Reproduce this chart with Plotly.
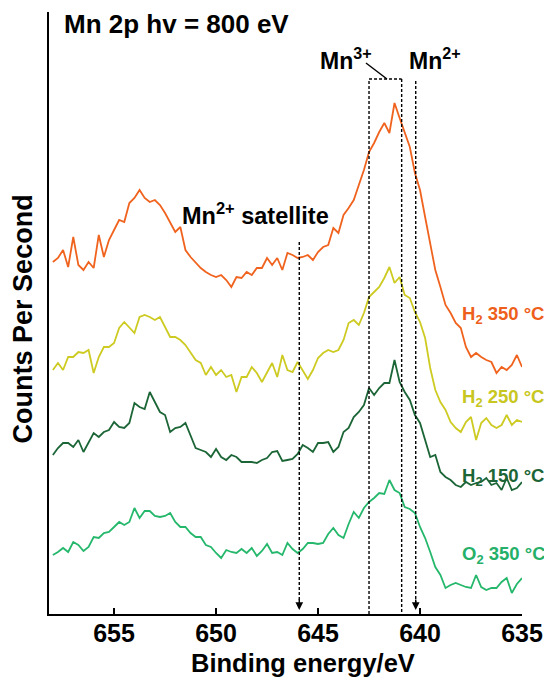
import plotly.graph_objects as go

# ---------------- data ----------------
binding_energy = [
    658.0, 657.75, 657.5, 657.25, 657.0, 656.75, 656.5, 656.25, 656.0, 655.75,
    655.5, 655.25, 655.0, 654.75, 654.5, 654.25, 654.0, 653.75, 653.5, 653.25,
    653.0, 652.75, 652.5, 652.25, 652.0, 651.75, 651.5, 651.25, 651.0, 650.75,
    650.5, 650.25, 650.0, 649.75, 649.5, 649.25, 649.0, 648.75, 648.5, 648.25,
    648.0, 647.75, 647.5, 647.25, 647.0, 646.75, 646.5, 646.25, 646.0, 645.75,
    645.5, 645.25, 645.0, 644.75, 644.5, 644.25, 644.0, 643.75, 643.5, 643.25,
    643.0, 642.75, 642.5, 642.25, 642.0, 641.75, 641.5, 641.25, 641.0, 640.75,
    640.5, 640.25, 640.0, 639.75, 639.5, 639.25, 639.0, 638.75, 638.5, 638.25,
    638.0, 637.75, 637.5, 637.25, 637.0, 636.75, 636.5, 636.25, 636.0, 635.75,
    635.5, 635.25, 635.0,
]

h2_350 = [
    352, 356, 364, 347, 377, 349, 344, 352, 346, 379,
    357, 374, 384, 394, 392, 411, 416, 424, 416, 412,
    414, 409, 401, 391, 382, 387, 364, 357, 351, 346,
    342, 339, 337, 339, 334, 327, 337, 336, 342, 339,
    346, 346, 356, 349, 356, 344, 361, 359, 356, 357,
    359, 354, 362, 367, 369, 386, 381, 399, 406, 414,
    429, 444, 462, 471, 482, 491, 481, 511, 496, 481,
    467, 441, 424, 397, 371, 344, 327, 309, 301, 291,
    286, 267, 257, 261, 257, 254, 252, 241, 247, 244,
    249, 259, 247,
]

h2_250 = [
    244, 251, 244, 257, 257, 262, 261, 264, 241, 257,
    267, 267, 271, 286, 292, 287, 281, 297, 299, 297,
    294, 297, 287, 277, 277, 274, 269, 261, 254, 251,
    239, 247, 239, 244, 237, 239, 222, 237, 237, 247,
    241, 232, 241, 251, 237, 259, 244, 242, 252, 244,
    235, 244, 256, 261, 264, 262, 264, 274, 291, 294,
    289, 301, 317, 322, 327, 336, 347, 331, 337, 319,
    316, 302, 292, 276, 246, 224, 212, 204, 192, 186,
    182, 192, 197, 174, 191, 196, 189, 186, 189, 199,
    189, 194, 192,
]

h2_150 = [
    159, 166, 171, 171, 167, 174, 162, 171, 181, 177,
    182, 184, 192, 187, 186, 191, 211, 207, 205, 222,
    212, 202, 199, 182, 186, 187, 191, 179, 166, 164,
    162, 157, 165, 157, 154, 159, 157, 152, 152, 152,
    151, 154, 156, 162, 163, 153, 154, 155, 160, 169,
    166, 162, 171, 171, 172, 162, 167, 182, 186, 197,
    202, 209, 226, 219, 226, 231, 231, 254, 232, 222,
    214, 199, 191, 174, 157, 159, 142, 137, 134, 129,
    127, 132, 129, 131, 132, 136, 129, 131, 124, 136,
    124, 126, 132,
]

o2_350 = [
    59, 62, 66, 62, 72, 69, 63, 67, 77, 76,
    81, 82, 87, 92, 89, 92, 106, 96, 103, 103,
    98, 97, 98, 101, 92, 87, 87, 81, 77, 77,
    69, 67, 61, 56, 64, 62, 61, 65, 61, 66,
    58, 63, 70, 61, 62, 59, 71, 65, 61, 65,
    71, 71, 70, 71, 80, 86, 79, 76, 90, 102,
    96, 106, 112, 116, 121, 120, 134, 124, 121, 107,
    105, 101, 87, 76, 62, 47, 39, 26, 29, 31,
    29, 27, 26, 39, 27, 24, 26, 26, 32, 36,
    21, 30, 36,
]

series_names = ["H<sub>2</sub> 350 °C", "H<sub>2</sub> 250 °C",
                "H<sub>2</sub> 150 °C", "O<sub>2</sub> 350 °C"]
series_values = [h2_350, h2_250, h2_150, o2_350]
series_colors = ["#F0631E", "#CDCB22", "#1B6536", "#25B86C"]
label_colors = ["#EE5F1C", "#C8C620", "#1B6536", "#25B06A"]
label_y = [299, 216, 137, 59]

tick_values = [655, 650, 645, 640, 635]
tick_labels = ["655", "650", "645", "640", "635"]

# marker energies
SAT_E = 645.92
MN3_LO = 642.5
MN3_HI = 640.9
MN2_E = 640.21

FONT = "Liberation Sans, Arial, Helvetica, sans-serif"

fig = go.Figure()
for name, vals, col in zip(series_names, series_values, series_colors):
    fig.add_trace(go.Scatter(
        x=binding_energy, y=vals, mode="lines", name=name,
        line=dict(color=col, width=1.8), showlegend=False,
    ))

dash = "3px,2px"
blk = dict(color="black", width=1.4, dash=dash)
shapes = [
    dict(type="line", xref="x", yref="y", x0=SAT_E, x1=SAT_E, y0=372, y1=12, line=blk),
    dict(type="line", xref="x", yref="y", x0=MN3_LO, x1=MN3_LO, y0=0, y1=535, line=blk),
    dict(type="line", xref="x", yref="y", x0=MN3_LO, x1=MN3_HI, y0=535, y1=535, line=blk),
    dict(type="line", xref="x", yref="y", x0=MN3_HI, x1=MN3_HI, y0=535, y1=0, line=blk),
    dict(type="line", xref="x", yref="y", x0=MN2_E, x1=MN2_E, y0=533, y1=12, line=blk),
    dict(type="line", xref="x", yref="y", x0=642.65, x1=641.62, y0=551, y1=535,
         line=dict(color="black", width=1.4)),
]

annotations = []
# arrow heads
for xe in (SAT_E, MN2_E):
    annotations.append(dict(x=xe, y=4, xref="x", yref="y", text="", showarrow=True,
                            ax=0, ay=-12, arrowhead=2, arrowsize=1.1, arrowwidth=1.4,
                            arrowcolor="black"))
# series labels
for name, col, ly in zip(series_names, label_colors, label_y):
    annotations.append(dict(x=0.869, y=ly, xref="paper", yref="y", text="<b>" + name + "</b>",
                            showarrow=False, xanchor="left", yanchor="middle",
                            font=dict(family=FONT, size=18.5, color=col)))
# peak labels
annotations += [
    dict(x=643.63, y=555, xref="x", yref="y", text="<b>Mn<sup>3+</sup></b>", showarrow=False,
         xanchor="center", yanchor="middle", font=dict(family=FONT, size=23, color="black")),
    dict(x=639.26, y=555, xref="x", yref="y", text="<b>Mn<sup>2+</sup></b>", showarrow=False,
         xanchor="center", yanchor="middle", font=dict(family=FONT, size=23, color="black")),
    dict(x=648.05, y=400, xref="x", yref="y", text="<b>Mn<sup>2+</sup> satellite</b>",
         showarrow=False, xanchor="center", yanchor="middle",
         font=dict(family=FONT, size=23.5, color="black")),
    # title
    dict(x=0.0275, y=0.980, xref="paper", yref="paper", text="<b>Mn 2p hv = 800 eV</b>",
         showarrow=False, xanchor="left", yanchor="middle",
         font=dict(family=FONT, size=26, color="black")),
    # axis titles
    dict(x=-0.055, y=0.491, xref="paper", yref="paper", text="<b>Counts Per Second</b>",
         textangle=-90, showarrow=False, xanchor="center", yanchor="middle",
         font=dict(family=FONT, size=27, color="black")),
    dict(x=0.537, y=-0.0814, xref="paper", yref="paper", text="<b>Binding energy/eV</b>",
         showarrow=False, xanchor="center", yanchor="middle",
         font=dict(family=FONT, size=25.5, color="black")),
]

# The page body keeps its default 8 px margin, so the figure is made 8 px smaller
# and the left/top margins reduced by 8 px to keep the plot area where it belongs.
fig.update_layout(
    width=544, height=671,
    margin=dict(l=41, r=30, t=4, b=65),
    paper_bgcolor="white", plot_bgcolor="white",
    font=dict(family=FONT, color="black"),
    shapes=shapes, annotations=annotations,
    xaxis=dict(range=[658.19, 635], showline=True, linecolor="black", linewidth=2,
               ticks="inside", ticklen=6, tickwidth=2, tickcolor="black",
               tickvals=tick_values, ticktext=tick_labels, ticklabelstandoff=-4,
               tickfont=dict(family=FONT, size=25, color="black", weight="bold"),
               showgrid=False, zeroline=False, mirror=False),
    yaxis=dict(range=[0, 602], showline=True, linecolor="black", linewidth=2,
               showticklabels=False, ticks="", showgrid=False, zeroline=False),
)

fig.write_html("out.html")
